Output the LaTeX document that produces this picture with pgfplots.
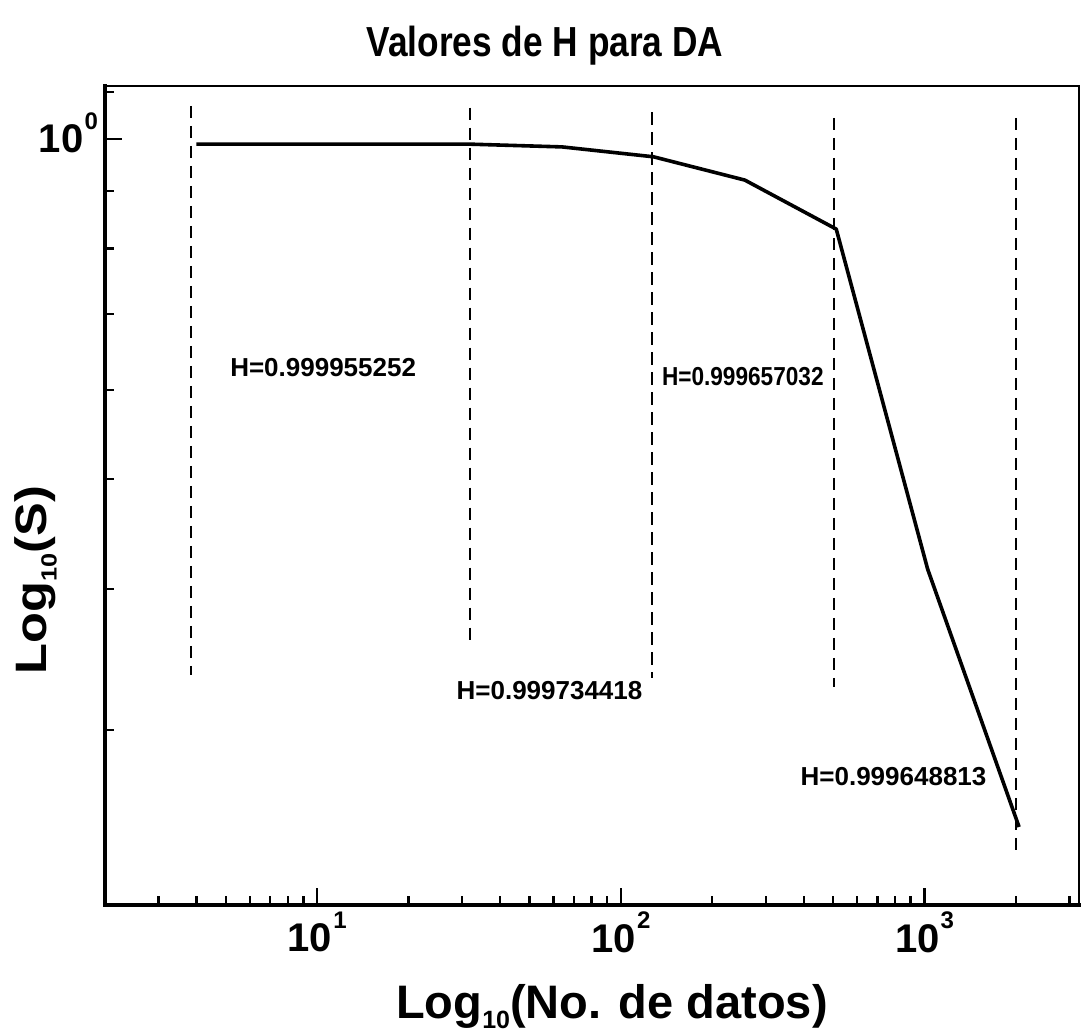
\documentclass[border=0pt]{standalone}
\usepackage{fontspec}
\setmainfont{Liberation Sans}
\usepackage{graphicx}
\usepackage{pgfplots}
\pgfplotsset{compat=1.18}
\newcommand{\xtl}[1]{{\fontsize{20}{22}\selectfont\bfseries 10\kern0.6pt\raisebox{0.58em}{\fontsize{12}{14}\selectfont\bfseries #1}}}
\newcommand{\ytl}[1]{{\fontsize{20}{22}\selectfont\bfseries 10\kern0.6pt\smash{\raisebox{0.58em}{\fontsize{12}{14}\selectfont\bfseries #1}}}}
\begin{document}
\begin{tikzpicture}
\useasboundingbox (-52.5pt,-65pt) rectangle (489pt,452.5pt);
\begin{axis}[
  at={(0pt,0pt)}, anchor=south west,
  scale only axis, width=487pt, height=409.5pt,
  xmode=log, ymode=log,
  xmin=2, xmax=3227, ymin=0.21, ymax=1.114,
  clip=false,
  xtick={10,100,1000},
  xticklabels={\xtl{1},\xtl{2},\xtl{3}},
  ytick={1},
  yticklabels={\ytl{0}},
  minor xtick={3,4,5,6,7,8,9,20,30,40,50,60,70,80,90,200,300,400,500,600,700,800,900,2000,3000},
  minor ytick={0.3,0.4,0.5,0.6,0.7,0.8,0.9,1.1},
  tick pos=left,
  tick align=inside,
  major tick length=8.5pt, minor tick length=4.5pt,
  every tick/.style={black, line width=1.2pt},
  axis line style={line width=1pt},
  title={\scalebox{0.84}[1]{\fontsize{21}{24}\selectfont\bfseries Valores de H para DA}},
  title style={at={(axis description cs:0.4517,1.0219)}, anchor=base},
  xlabel={{\fontsize{23.5}{26}\selectfont\bfseries Log\raisebox{-5pt}{\fontsize{12.5}{15}\selectfont\bfseries 10}(No. de datos)}},
  xlabel style={at={(axis description cs:0.5205,-0.1380)}, anchor=base},
  ylabel={\scalebox{1.15}[1]{\fontsize{22}{24}\selectfont\bfseries Log\raisebox{-5pt}{\fontsize{11}{13}\selectfont\bfseries 10}(S)}},
  ylabel style={at={(axis description cs:-0.060,0.397)}, anchor=base},
]
\draw[line width=2.2pt, line cap=rect] (rel axis cs:0,1) -- (rel axis cs:0,0) -- (rel axis cs:1,0);

\addplot[black, line width=1.8pt, line join=round] coordinates {
  (4,0.9897) (8,0.9897) (16,0.9897) (32,0.9895) (64,0.984) (128,0.9644)
  (256,0.9197) (512,0.8323) (1024,0.4163) (2048,0.2462)};

\addplot[black, line width=1pt, dash pattern=on 6.3pt off 3.7pt] coordinates {(3.85,1.070) (3.85,0.3357)};
\addplot[black, line width=1pt, dash pattern=on 6.3pt off 3.7pt] coordinates {(31.8,1.066) (31.8,0.358)};
\addplot[black, line width=1pt, dash pattern=on 6.3pt off 3.7pt] coordinates {(126.5,1.056) (126.5,0.3334)};
\addplot[black, line width=1pt, dash pattern=on 6.3pt off 3.7pt] coordinates {(505,1.044) (505,0.3275)};
\addplot[black, line width=1pt, dash pattern=on 6.3pt off 3.7pt] coordinates {(1995,1.044) (1995,0.2339)};

\node[font=\fontsize{13}{15}\selectfont\bfseries] at (axis cs:10.46,0.628) {H=0.999955252};
\node[font=\fontsize{13}{15}\selectfont\bfseries] at (axis cs:58.2,0.3253) {H=0.999734418};
\node at (axis cs:252.1,0.6167) {\scalebox{0.87}[1]{\fontsize{13}{15}\selectfont\bfseries H=0.999657032}};
\node[font=\fontsize{13}{15}\selectfont\bfseries] at (axis cs:790.5,0.2730) {H=0.999648813};
\end{axis}
\end{tikzpicture}
\end{document}
